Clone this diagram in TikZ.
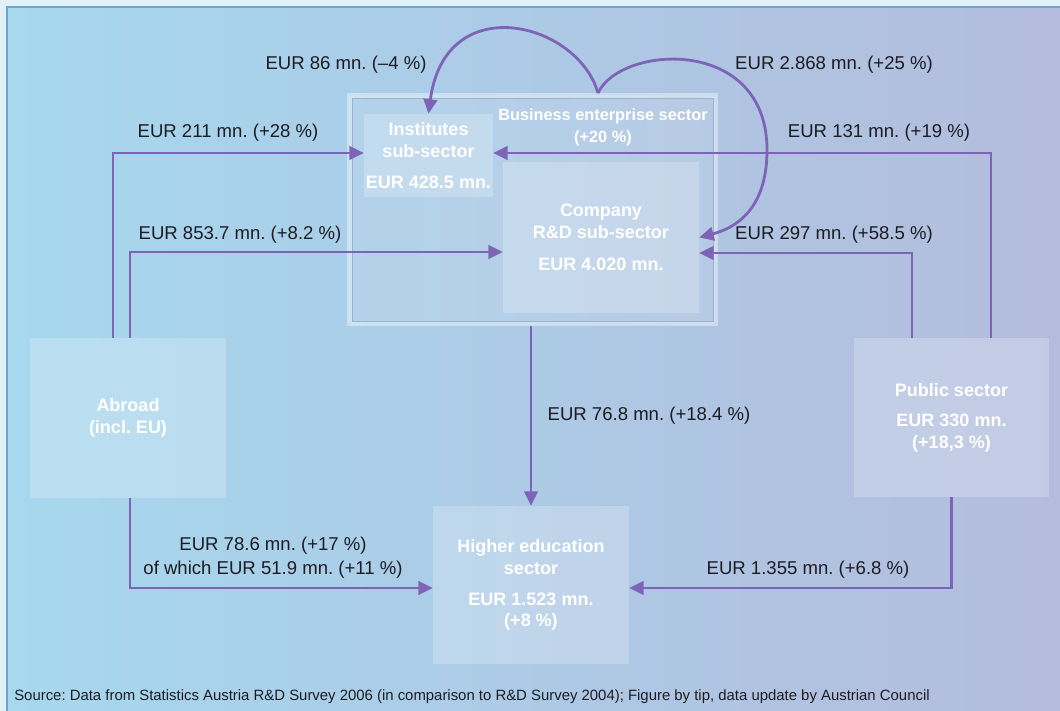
\documentclass[tikz,border=0pt]{standalone}
\usepackage{fontspec}
\setmainfont{Liberation Sans}
\usetikzlibrary{arrows.meta,calc,positioning}
\definecolor{flowpurple}{RGB}{126,100,182}
\definecolor{labelink}{RGB}{28,28,34}
\definecolor{outerbg}{RGB}{226,240,250}
\definecolor{panelleft}{RGB}{166,216,238}
\definecolor{panelright}{RGB}{180,188,221}
\definecolor{panelline}{RGB}{110,165,205}
\definecolor{bizline}{RGB}{150,180,212}
\frenchspacing

\begin{document}
\begin{tikzpicture}[x=0.025cm,y=-0.025cm]
\tikzset{
  sectorbox/.style={fill=white,fill opacity=0.22,text opacity=1,text=white,inner sep=0pt,align=center,
    font=\bfseries\fontsize{12.8}{15.6}\selectfont},
  bizbox/.style={fill=white,fill opacity=0.1,draw=white,draw opacity=0.38,line width=1.2mm,inner sep=0pt},
  bizlabel/.style={text=white,align=center,inner sep=0pt,font=\bfseries\fontsize{11.6}{15.6}\selectfont},
  flow/.style={draw=flowpurple,line width=0.7mm,-{Triangle[length=3.6mm,width=3.4mm]}},
  flowlabel/.style={text=labelink,inner sep=0pt,align=center,font=\fontsize{13.2}{17}\selectfont}
}
\useasboundingbox (0,0) rectangle (1060,711);
\fill[outerbg] (0,0) rectangle (1060,711);
\fill[left color=panelleft,right color=panelright] (7,7) rectangle (1060,711);
\draw[panelline,line width=0.3mm] (7,711) -- (7,7) -- (1060,7);
% business enterprise sector
\node[bizbox,minimum width=91.5mm,minimum height=57mm] (n_business) at (532.5,209.5) {};
\draw[bizline,line width=0.2mm] ($(n_business.north west)+(5,5)$) rectangle ($(n_business.south east)+(-5,-5)$);
\node[bizlabel] (n_bizlabel) at (603,127) {Business enterprise sector\\(+20 \%)};
\node[sectorbox,minimum width=32.25mm,minimum height=20.75mm] (n_inst) at (428.5,155.5)
  {Institutes\\sub-sector\\[2.4mm]EUR 428.5 mn.};
\node[sectorbox,minimum width=49mm,minimum height=37.75mm] (n_company) at (601,237.5)
  {Company\\R\&D sub-sector\\[2.4mm]EUR 4.020 mn.};
% other sectors
\node[sectorbox,minimum width=49mm,minimum height=40mm] (n_abroad) at (128,418) {Abroad\\(incl. EU)};
\node[sectorbox,minimum width=48.75mm,minimum height=39.75mm] (n_public) at (951.5,417.5)
  {Public sector\\[2mm]EUR 330 mn.\\(+18,3 \%)};
\node[sectorbox,minimum width=49mm,minimum height=39.5mm] (n_higher) at (531,585)
  {Higher education\\sector\\[2.2mm]EUR 1.523 mn.\\(+8 \%)};
\coordinate (c_split) at ($(n_business.north)+(65.5,0)$);
% flows
\draw[flow] ($(n_abroad.north)+(-15,0)$) |- ($(n_inst.west)+(0,-2.5)$);
\draw[flow] ($(n_abroad.north)+(2,0)$) |- ($(n_company.west)+(0,14.5)$);
\draw[flow] ($(n_abroad.south)+(2,0)$) |- ($(n_higher.west)+(0,3)$);
\draw[flow] ($(n_public.north)+(39.5,0)$) |- ($(n_inst.east)+(0,-2.5)$);
\draw[flow] ($(n_public.north)+(-39.5,0)$) |- ($(n_company.east)+(0,15.5)$);
\draw[flow] (n_public.south) |- ($(n_higher.east)+(0,3)$);
\draw[flow] (n_business.south -| n_higher.north) -- (n_higher.north);
\draw[flow] (c_split) .. controls (578,22) and (445,-12) .. (n_inst.north);
\draw[flow] (c_split) .. controls (620,45) and (767,35) .. (767,150)
  .. controls (767,210) and (735,228) .. (n_company.east);
% flow labels
\node[flowlabel] (lab_inst_own) at (346,65) {EUR 86 mn. (–4 \%)};
\node[flowlabel] (lab_comp_own) at (834,65) {EUR 2.868 mn. (+25 \%)};
\node[flowlabel] (lab_inst_abroad) at (228,133) {EUR 211 mn. (+28 \%)};
\node[flowlabel] (lab_inst_public) at (879,133) {EUR 131 mn. (+19 \%)};
\node[flowlabel] (lab_comp_abroad) at (240,235) {EUR 853.7 mn. (+8.2 \%)};
\node[flowlabel] (lab_comp_public) at (834,235) {EUR 297 mn. (+58.5 \%)};
\node[flowlabel] (lab_high_biz) at (649,416) {EUR 76.8 mn. (+18.4 \%)};
\node[flowlabel] (lab_high_abroad) at (273,558) {EUR 78.6 mn. (+17 \%)\\of which EUR 51.9 mn. (+11 \%)};
\node[flowlabel] (lab_high_public) at (808,570) {EUR 1.355 mn. (+6.8 \%)};
\node[text=labelink,anchor=west,inner sep=0pt,font=\fontsize{10.6}{12}\selectfont] (n_source) at (14,697)
  {Source: Data from Statistics Austria R\&D Survey 2006 (in comparison to R\&D Survey 2004); Figure by tip, data update by Austrian Council};
\end{tikzpicture}
\end{document}
